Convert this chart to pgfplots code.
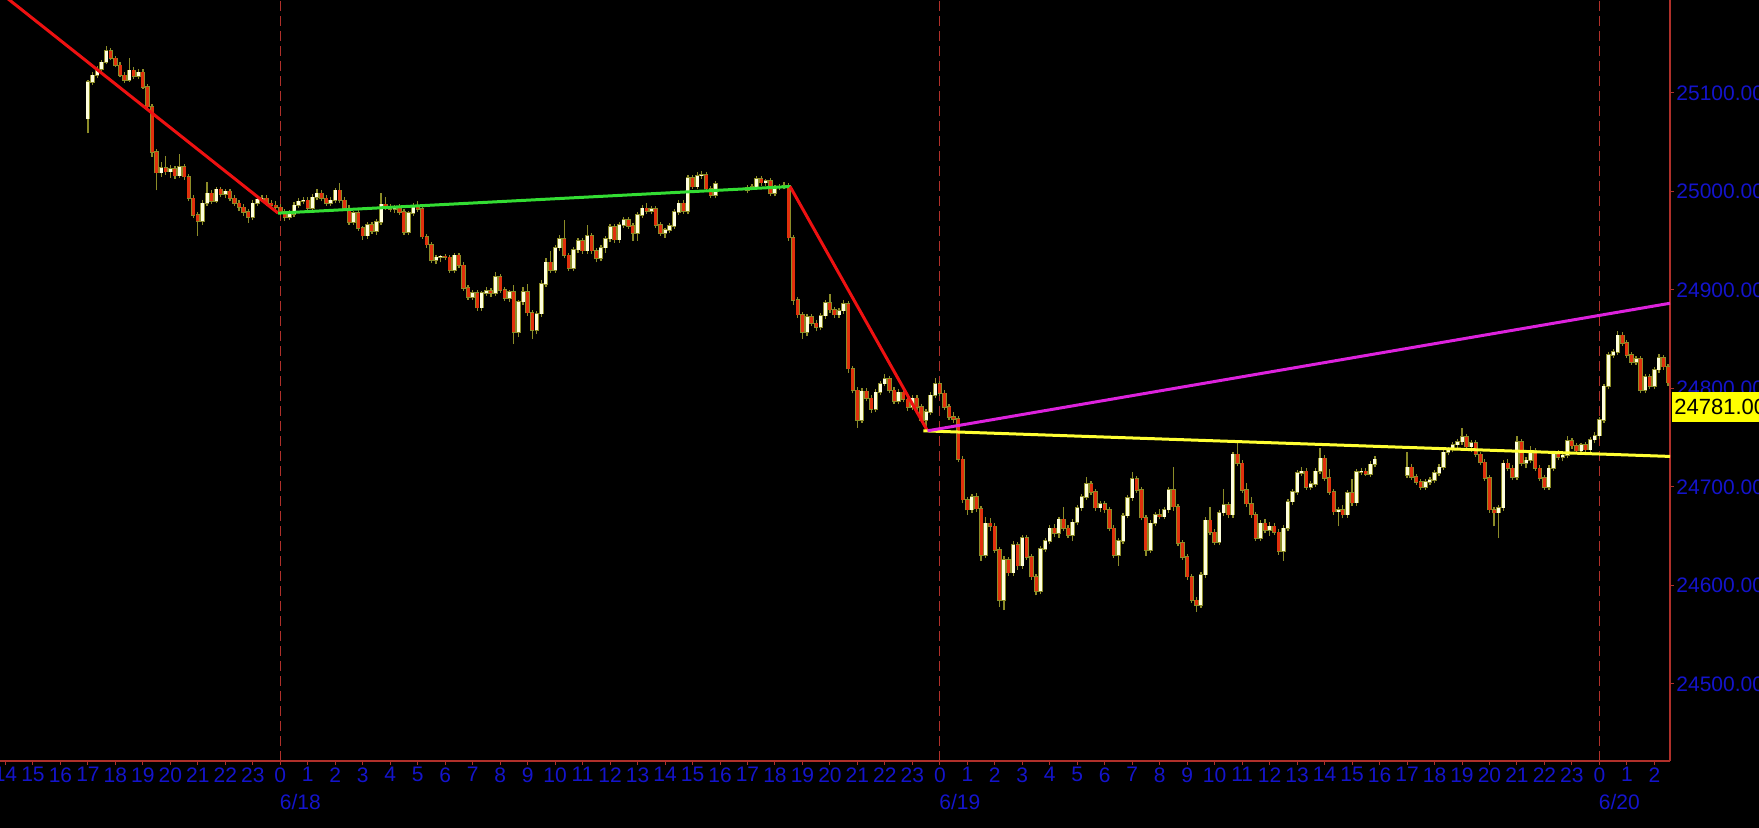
\documentclass[border=0pt]{standalone}
\usepackage{pgfplots}
\usepackage{pgfplotstable}
\pgfplotsset{compat=1.18}
\usepackage{fontspec}
\setmainfont{Liberation Sans}

\definecolor{axred}{HTML}{B0302A}
\definecolor{tickblue}{HTML}{1414CC}
\definecolor{cream}{HTML}{FFFFDD}
\definecolor{candred}{HTML}{E0300C}
\definecolor{wick}{HTML}{8C8C28}
\definecolor{trendred}{HTML}{EE1111}
\definecolor{trendgreen}{HTML}{33DD33}
\definecolor{trendmag}{HTML}{DD22DD}
\definecolor{trendyel}{HTML}{FFFF33}
\definecolor{labyellow}{HTML}{FFFF00}

% 10-minute bars, i = bar index (6 per hour), 0 = 6/18 0:00
\pgfplotstableread{
i o h l c
-42 25074 25113 25059 25111
-41 25111 25121 25108 25118
-40 25118 25127 25115 25124
-39 25124 25133 25121 25131
-38 25131 25148 25129 25143
-37 25143 25146 25133 25135
-36 25135 25138 25126 25128
-35 25128 25131 25116 25118
-34 25118 25121 25110 25113
-33 25113 25135 25111 25123
-32 25123 25126 25114 25117
-31 25117 25124 25114 25121
-30 25121 25124 25104 25106
-29 25106 25109 25083 25086
-28 25086 25089 25035 25040
-27 25040 25043 25001 25019
-26 25019 25030 25015 25024
-25 25024 25036 25017 25020
-24 25020 25027 25014 25023
-23 25023 25026 25013 25016
-22 25016 25038 25014 25025
-21 25025 25028 25012 25015
-20 25015 25018 24990 24993
-19 24993 24996 24973 24976
-18 24976 24979 24955 24970
-17 24970 24991 24966 24988
-16 24988 25010 24985 24998
-15 24998 25001 24987 24990
-14 24990 25005 24988 25002
-13 25002 25005 24994 24997
-12 24997 25003 24993 25000
-11 25000 25002 24990 24993
-10 24993 24996 24985 24988
-9 24988 24991 24980 24984
-8 24984 24987 24975 24979
-7 24979 24982 24968 24974
-6 24974 24991 24971 24988
-5 24988 24995 24985 24992
-4 24992 24996 24989 24993
-3 24993 24996 24985 24988
-2 24988 24991 24983 24986
-1 24986 24990 24981 24984
0 24984 24987 24976 24979
1 24979 24982 24970 24974
2 24974 24981 24971 24977
3 24977 24989 24974 24986
4 24986 24993 24983 24990
5 24990 24994 24987 24991
6 24991 24994 24980 24983
7 24983 24997 24980 24994
8 24994 25003 24991 24998
9 24998 25001 24990 24993
10 24993 24996 24985 24988
11 24988 24994 24985 24991
12 24991 25004 24988 25001
13 25001 25009 24988 24991
14 24991 24994 24980 24983
15 24983 24986 24966 24969
16 24969 24980 24966 24978
17 24978 24981 24960 24963
18 24963 24965 24951 24955
19 24955 24969 24952 24966
20 24966 24969 24957 24960
21 24960 24972 24956 24969
22 24969 24998 24966 24987
23 24987 24994 24981 24984
24 24984 24987 24979 24982
25 24982 24986 24978 24984
26 24984 24987 24976 24979
27 24979 24982 24956 24959
28 24959 24980 24956 24978
29 24978 24988 24975 24985
30 24985 24990 24979 24982
31 24982 24985 24952 24954
32 24954 24957 24943 24946
33 24946 24949 24927 24930
34 24930 24936 24926 24933
35 24933 24936 24928 24934
36 24934 24937 24930 24933
37 24933 24936 24917 24920
38 24920 24938 24917 24935
39 24935 24938 24922 24925
40 24925 24928 24899 24902
41 24902 24905 24890 24893
42 24893 24900 24890 24897
43 24897 24900 24879 24882
44 24882 24899 24879 24897
45 24897 24903 24894 24899
46 24899 24902 24893 24897
47 24897 24918 24894 24913
48 24913 24916 24897 24900
49 24900 24903 24889 24892
50 24892 24900 24888 24898
51 24898 24905 24845 24857
52 24857 24890 24852 24888
53 24888 24903 24885 24898
54 24898 24906 24874 24877
55 24877 24880 24850 24859
56 24859 24879 24855 24876
57 24876 24910 24873 24906
58 24906 24932 24903 24928
59 24928 24940 24917 24920
60 24920 24946 24917 24943
61 24943 24956 24940 24952
62 24952 24971 24932 24935
63 24935 24938 24919 24922
64 24922 24944 24919 24941
65 24941 24953 24938 24950
66 24950 24953 24937 24940
67 24940 24966 24937 24955
68 24955 24958 24937 24940
69 24940 24943 24928 24932
70 24932 24946 24929 24943
71 24943 24955 24938 24952
72 24952 24967 24949 24964
73 24964 24967 24948 24951
74 24951 24969 24948 24966
75 24966 24974 24963 24971
76 24971 24974 24962 24965
77 24965 24968 24950 24958
78 24958 24979 24950 24976
79 24976 24986 24973 24983
80 24983 24988 24977 24980
81 24980 24985 24977 24982
82 24982 24985 24963 24966
83 24966 24969 24955 24958
84 24958 24963 24953 24961
85 24961 24968 24958 24965
86 24965 24982 24962 24979
87 24979 24991 24976 24988
88 24988 24991 24977 24980
89 24980 25017 24977 25014
90 25014 25017 25002 25005
91 25005 25020 25002 25016
92 25016 25021 25013 25017
93 25017 25020 25000 25003
94 25003 25006 24993 24996
95 24996 25011 24993 25008
102 25001 25007 24998 25004
103 25004 25008 25001 25005
104 25005 25016 25002 25013
105 25013 25016 25006 25009
106 25009 25013 25006 25011
107 25011 25014 24995 24998
108 24998 25007 24995 25004
109 25004 25008 25001 25005
110 25005 25010 25002 25006
111 25006 25009 24950 24953
112 24953 24956 24885 24890
113 24890 24893 24872 24875
114 24875 24878 24850 24857
115 24857 24876 24853 24873
116 24873 24876 24863 24866
117 24866 24869 24858 24862
118 24862 24877 24859 24874
119 24874 24890 24871 24887
120 24887 24896 24877 24880
121 24880 24883 24872 24875
122 24875 24882 24872 24879
123 24879 24890 24876 24886
124 24886 24889 24816 24820
125 24820 24823 24795 24798
126 24798 24801 24760 24768
127 24768 24800 24765 24797
128 24797 24800 24787 24790
129 24790 24793 24775 24779
130 24779 24799 24776 24796
131 24796 24808 24793 24805
132 24805 24815 24802 24810
133 24810 24813 24795 24798
134 24798 24801 24784 24787
135 24787 24799 24784 24796
136 24796 24799 24786 24789
137 24789 24792 24777 24781
138 24781 24793 24778 24790
139 24790 24793 24778 24781
140 24781 24784 24765 24768
141 24768 24779 24757 24776
142 24776 24796 24773 24793
143 24793 24811 24790 24805
144 24805 24808 24792 24795
145 24795 24798 24778 24781
146 24781 24784 24768 24771
147 24771 24776 24765 24769
148 24769 24772 24725 24728
149 24728 24731 24684 24687
150 24687 24690 24672 24677
151 24677 24693 24674 24690
152 24690 24694 24675 24678
153 24678 24681 24625 24631
154 24631 24670 24628 24663
155 24663 24668 24655 24660
156 24660 24663 24633 24636
157 24636 24639 24578 24585
158 24585 24630 24575 24626
159 24626 24629 24610 24613
160 24613 24645 24610 24641
161 24641 24644 24616 24620
162 24620 24651 24617 24648
163 24648 24651 24626 24629
164 24629 24632 24606 24609
165 24609 24612 24590 24594
166 24594 24640 24591 24637
167 24637 24648 24634 24645
168 24645 24661 24642 24658
169 24658 24662 24649 24653
170 24653 24670 24648 24667
171 24667 24680 24655 24658
172 24658 24661 24648 24651
173 24651 24667 24645 24664
174 24664 24682 24661 24679
175 24679 24693 24676 24690
176 24690 24710 24687 24703
177 24703 24706 24692 24695
178 24695 24698 24676 24679
179 24679 24686 24675 24683
180 24683 24686 24674 24677
181 24677 24680 24655 24658
182 24658 24661 24628 24631
183 24631 24648 24620 24645
184 24645 24674 24642 24671
185 24671 24692 24668 24689
186 24689 24715 24686 24708
187 24708 24711 24694 24697
188 24697 24700 24666 24669
189 24669 24672 24630 24636
190 24636 24666 24633 24663
191 24663 24675 24660 24672
192 24672 24678 24667 24670
193 24670 24680 24667 24677
194 24677 24700 24674 24697
195 24697 24720 24676 24680
196 24680 24683 24640 24643
197 24643 24646 24626 24629
198 24629 24632 24606 24609
199 24609 24612 24582 24585
200 24585 24588 24573 24580
201 24580 24614 24577 24611
202 24611 24670 24608 24666
203 24666 24680 24651 24654
204 24654 24657 24641 24644
205 24644 24677 24641 24674
206 24674 24698 24671 24682
207 24682 24685 24669 24672
208 24672 24736 24669 24733
209 24733 24745 24721 24724
210 24724 24727 24694 24697
211 24697 24704 24680 24683
212 24683 24690 24669 24672
213 24672 24675 24645 24648
214 24648 24666 24645 24663
215 24663 24667 24653 24656
216 24656 24664 24650 24660
217 24660 24663 24651 24654
218 24654 24657 24631 24635
219 24635 24661 24625 24658
220 24658 24688 24655 24685
221 24685 24698 24682 24695
222 24695 24717 24692 24714
223 24714 24720 24711 24716
224 24716 24719 24697 24700
225 24700 24706 24697 24703
226 24703 24719 24700 24716
227 24716 24740 24713 24729
228 24729 24732 24706 24709
229 24709 24718 24692 24695
230 24695 24698 24672 24675
231 24675 24680 24660 24677
232 24677 24682 24668 24672
233 24672 24697 24669 24694
234 24694 24708 24681 24684
235 24684 24718 24681 24715
236 24715 24719 24712 24716
237 24716 24719 24711 24713
238 24713 24726 24710 24723
239 24723 24731 24720 24728
246 24712 24735 24709 24720
247 24720 24723 24707 24710
248 24710 24713 24702 24705
249 24705 24708 24697 24700
250 24700 24708 24697 24705
251 24705 24710 24702 24707
252 24707 24717 24704 24714
253 24714 24723 24711 24720
254 24720 24738 24717 24735
255 24735 24741 24732 24738
256 24738 24746 24735 24743
257 24743 24749 24740 24746
258 24746 24760 24743 24751
259 24751 24754 24738 24741
260 24741 24748 24735 24745
261 24745 24748 24730 24733
262 24733 24736 24722 24725
263 24725 24728 24706 24709
264 24709 24712 24674 24677
265 24677 24680 24660 24674
266 24674 24682 24648 24679
267 24679 24727 24676 24724
268 24724 24728 24716 24719
269 24719 24722 24707 24710
270 24710 24752 24707 24746
271 24746 24749 24721 24724
272 24724 24730 24719 24727
273 24727 24742 24724 24737
274 24737 24740 24716 24719
275 24719 24722 24706 24709
276 24709 24712 24697 24700
277 24700 24722 24697 24719
278 24719 24737 24716 24734
279 24734 24738 24727 24730
280 24730 24734 24726 24732
281 24732 24752 24729 24747
282 24747 24750 24739 24742
283 24742 24745 24734 24737
284 24737 24745 24734 24743
285 24743 24746 24735 24738
286 24738 24751 24735 24748
287 24748 24756 24745 24752
288 24752 24771 24749 24768
289 24768 24805 24765 24802
290 24802 24837 24799 24834
291 24834 24840 24831 24837
292 24837 24858 24834 24854
293 24854 24857 24843 24846
294 24846 24849 24831 24834
295 24834 24837 24824 24827
296 24827 24833 24824 24830
297 24830 24833 24795 24798
298 24798 24815 24795 24812
299 24812 24815 24799 24802
300 24802 24822 24799 24819
301 24819 24835 24816 24831
302 24831 24834 24819 24822
303 24822 24825 24803 24806
}\candles

\begin{document}
\begin{tikzpicture}
\fill[black] (0pt,0pt) rectangle (879.5pt,414pt);
\begin{axis}[
  at={(0pt,33.5pt)}, anchor=south west,
  scale only axis, width=835pt, height=380.5pt,
  xmin=-10.2, xmax=50.57, ymin=24421.8, ymax=25194.4,
  axis x line*=bottom, axis y line*=right,
  axis line style={draw=axred, line width=0.6pt},
  tick align=outside, major tick length=2pt,
  tick style={draw=axred, line width=0.5pt},
  xtick={-10,...,50},
  xticklabels={14,15,16,17,18,19,20,21,22,23,
    0,1,2,3,4,5,6,7,8,9,10,11,12,13,14,15,16,17,18,19,20,21,22,23,
    0,1,2,3,4,5,6,7,8,9,10,11,12,13,14,15,16,17,18,19,20,21,22,23,
    0,1,2},
  ytick={24500,24600,24700,24800,24900,25000,25100,25200},
  yticklabels={24500.000,24600.000,24700.000,24800.000,24900.000,25000.000,25100.000,25200.000},
  ticklabel style={text=tickblue},
  xticklabel style={font=\fontsize{10.5}{11}\selectfont, inner sep=1pt},
  yticklabel style={font=\fontsize{10.5}{12}\selectfont, inner sep=1pt},
  clip mode=individual,
]
% day separators
\addplot[axred, line width=0.6pt, dash pattern=on 5pt off 2.5pt] coordinates {(0,24421.8) (0,25194.4)};
\addplot[axred, line width=0.6pt, dash pattern=on 5pt off 2.5pt] coordinates {(24,24421.8) (24,25194.4)};
\addplot[axred, line width=0.6pt, dash pattern=on 5pt off 2.5pt] coordinates {(48,24421.8) (48,25194.4)};

% wicks: low to high
\addplot[draw=wick, line width=0.6pt, -, quiver={u=0, v=\thisrow{h}-\thisrow{l}}]
  table[x expr=\thisrow{i}/6, y=l] {\candles};
% body outlines
\addplot[draw=wick, line width=2.2pt, -, quiver={u=0, v=abs(\thisrow{c}-\thisrow{o})+1.4}]
  table[x expr=\thisrow{i}/6, y expr={min(\thisrow{o},\thisrow{c})-0.7}] {\candles};
% up bodies
\addplot[draw=cream, line width=1.5pt, -,
  restrict expr to domain={\thisrow{c}-\thisrow{o}}{0:10000},
  quiver={u=0, v=\thisrow{c}-\thisrow{o}}]
  table[x expr=\thisrow{i}/6, y=o] {\candles};
% down bodies
\addplot[draw=candred, line width=1.5pt, -,
  restrict expr to domain={\thisrow{o}-\thisrow{c}}{0.5:10000},
  quiver={u=0, v=\thisrow{o}-\thisrow{c}}]
  table[x expr=\thisrow{i}/6, y=c] {\candles};

% trend lines
\addplot[trendred, line width=1.5pt] coordinates {(-10.2,25202) (-0.08,24978)};
\addplot[trendgreen, line width=1.5pt] coordinates {(-0.08,24978) (18.55,25005)};
\addplot[trendred, line width=1.5pt] coordinates {(18.55,25005) (23.55,24757)};
\addplot[trendyel, line width=1.5pt] coordinates {(23.4,24757) (50.57,24731)};
\addplot[trendmag, line width=1.5pt] coordinates {(23.55,24757) (50.57,24886.5)};

% price tag and date labels
\node[fill=labyellow, text=black, anchor=west, inner xsep=1pt, inner ysep=3.5pt,
  font=\fontsize{11}{12}\selectfont, xshift=1pt] at (axis cs:50.57,24781) {24781.000};
\node[text=tickblue, font=\fontsize{10.5}{11}\selectfont, xshift=10pt, yshift=-20.5pt]
  at (axis cs:0,24421.8) {6/18};
\node[text=tickblue, font=\fontsize{10.5}{11}\selectfont, xshift=10pt, yshift=-20.5pt]
  at (axis cs:24,24421.8) {6/19};
\node[text=tickblue, font=\fontsize{10.5}{11}\selectfont, xshift=10pt, yshift=-20.5pt]
  at (axis cs:48,24421.8) {6/20};
\end{axis}
\pgfresetboundingbox
\useasboundingbox (0pt,0pt) rectangle (879.5pt,414pt);
\end{tikzpicture}
\end{document}
